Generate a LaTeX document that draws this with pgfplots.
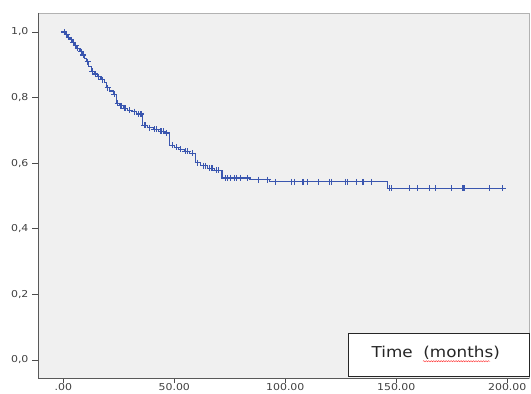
\documentclass[border=0pt]{standalone}
\usepackage{fontspec}
\setmainfont{DejaVu Sans}
\usepackage{pgfplots}
\pgfplotsset{compat=1.18}
\usetikzlibrary{decorations.pathmorphing}
\definecolor{kmblue}{RGB}{58,86,175}
\definecolor{bggray}{RGB}{240,240,240}
\begin{document}
\begin{tikzpicture}
\useasboundingbox (0,0) rectangle (531bp,394bp);
\begin{axis}[
  at={(38bp,16bp)}, anchor=south west,
  scale only axis, width=491bp, height=365bp,
  xmin=-11.4, xmax=209.8, ymin=-0.055, ymax=1.058,
  clip=false,
  axis background/.style={fill=bggray},
  axis line style={draw=gray!60, line width=0.8pt},
  xtick={0,50,100,150,200},
  xticklabels={.00,50.00,100.00,150.00,200.00},
  ytick={0,0.2,0.4,0.6,0.8,1.0},
  yticklabels={{0,0},{0,2},{0,4},{0,6},{0,8},{1,0}},
  tick align=outside, xtick pos=bottom, ytick pos=left,
  major tick length=5.5bp,
  tick style={draw=black!70, line width=0.8pt},
  tick label style={font=\fontsize{9.5bp}{11bp}\selectfont, text=black!75, xscale=1.15},
  xticklabel style={yshift=3.5bp},
]
\draw[black!65, line width=0.9pt] (rel axis cs:0,1) -- (rel axis cs:0,0) -- (rel axis cs:1,0);
\addplot[kmblue, line width=1.1pt, const plot, mark=none] coordinates {
(0,1.000) (1.0,0.992) (2.0,0.984) (3.0,0.976) (4.0,0.968) (5.0,0.960)
(6.0,0.950) (7.5,0.940) (8.5,0.930) (9.5,0.920) (10.5,0.910) (11.5,0.895)
(12.5,0.880) (14,0.872) (15.5,0.864) (17,0.855) (18.5,0.845) (19.5,0.830)
(21,0.820) (22.5,0.810) (24,0.783) (25.5,0.775) (27,0.768) (29,0.762)
(31,0.757) (33,0.750) (35.5,0.716) (38,0.708) (40.5,0.703) (43,0.697)
(46,0.692) (48,0.655) (50,0.648) (52,0.642) (54.5,0.637) (57,0.630)
(59.5,0.602) (62,0.592) (65,0.585) (68,0.578) (71.5,0.555) (84,0.550)
(93,0.543) (146,0.524) (198,0.524)
};
\addplot[kmblue, only marks, mark=+, mark size=3bp, mark options={line width=1.1pt}] coordinates {
(0.5,1.0) (1.5,.992) (2.5,.984) (3.5,.976) (4.5,.968) (5.5,.960) (6.5,.950)
(8,.940) (9,.930) (11,.910) (13,.880) (14.5,.872) (16,.864) (17.5,.855)
(20,.830) (23,.810) (24.5,.783) (26,.775) (27.5,.768) (28,.768) (30,.762)
(32,.757) (34,.750) (35,.750) (36.5,.716) (37,.716) (39,.708) (41,.703)
(42,.703) (44,.697) (45,.697) (46.5,.692) (49,.655) (51,.648) (53,.642)
(55,.637) (56,.637) (58,.630) (60.5,.602) (63,.592) (64,.592) (66,.585)
(67,.585) (69,.578) (70,.578) (73,.555) (74,.555) (75.5,.555) (77,.555)
(78,.555) (80,.555) (83,.555) (88,.550) (92,.550) (95.5,.543) (103,.543)
(104,.543) (108,.543) (110,.543) (115,.543) (120,.543) (121,.543) (127,.543)
(128,.543) (132,.543) (135,.543) (139,.543) (147,.524) (148,.524) (156,.524)
(159.5,.524) (165,.524) (167.5,.524) (175,.524) (180,.524) (180.5,.524)
(192,.524) (198,.524)
};
\draw[black!85, line width=0.9pt, fill=white] (rel axis cs:0.633,0.005) rectangle (rel axis cs:1,0.123);
\node[font=\fontsize{15bp}{18bp}\selectfont, xscale=1.12, text=black!85] at (rel axis cs:0.81,0.068) {Time\ \ (months)};
\draw[red!85, line width=0.4pt, decorate, decoration={snake, amplitude=0.6pt, segment length=2.5pt}] (rel axis cs:0.784,0.046) -- (rel axis cs:0.921,0.046);
\end{axis}
\end{tikzpicture}
\end{document}
